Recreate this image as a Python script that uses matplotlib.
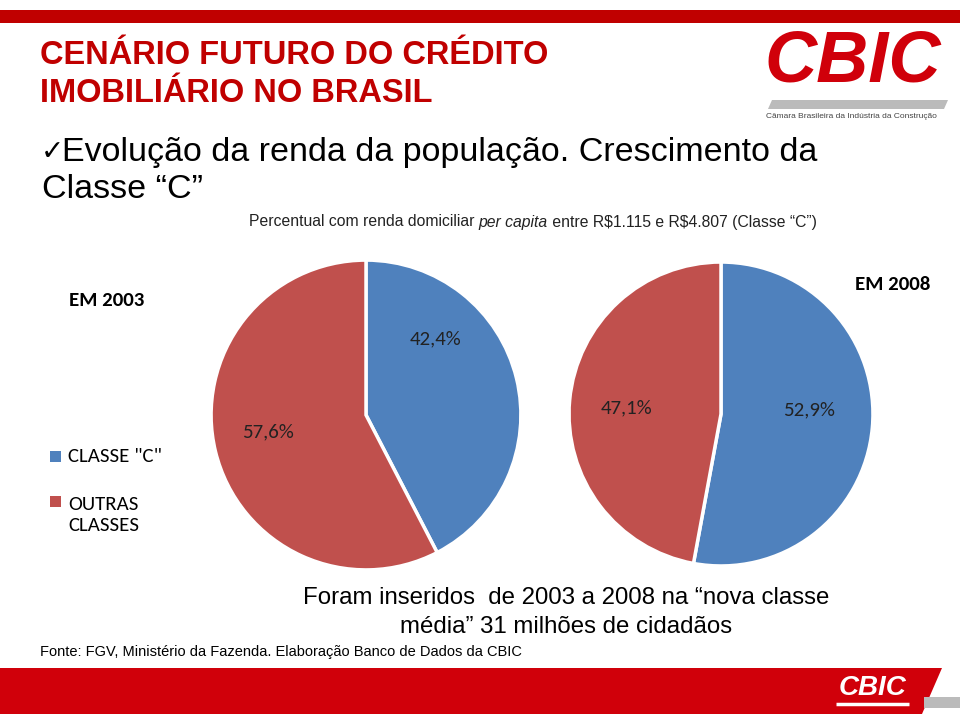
import matplotlib
matplotlib.use("Agg")
import matplotlib.pyplot as plt
from matplotlib import font_manager
from matplotlib.patches import Rectangle, Polygon

# data
labels = ['CLASSE "C"', "OUTRAS\nCLASSES"]
share_2003 = [42.4, 57.6]
share_2008 = [52.9, 47.1]
text_2003 = ["42,4%", "57,6%"]
text_2008 = ["52,9%", "47,1%"]
colors = ["#4F81BD", "#C0504D"]

RED = "#C00000"

installed = {f.name for f in font_manager.fontManager.ttflist}


def pick(*names):
    for n in names:
        if n in installed:
            return n
    return "DejaVu Sans"


narrow = pick("Liberation Sans Narrow", "Liberation Sans")
arial = pick("Liberation Sans")
calibri = pick("Carlito", "Lato", "Open Sans")
title_size = 25 if narrow != arial else 23.5

W, H = 960, 717
fig = plt.figure(figsize=(W / 100, H / 100), dpi=100)
renderer = fig.canvas.get_renderer()

# background axes in pixel coords
bg = fig.add_axes([0, 0, 1, 1])
bg.set_xlim(0, W)
bg.set_ylim(H, 0)
bg.axis("off")

# top red bar
bg.add_patch(Rectangle((0, 10), W, 13, color=RED, lw=0))

# title
bg.text(40, 55, "CENÁRIO FUTURO DO CRÉDITO", family=narrow, weight="bold",
        fontsize=title_size, color=RED, va="center", ha="left")
bg.text(40, 93, "IMOBILIÁRIO NO BRASIL", family=narrow, weight="bold",
        fontsize=title_size, color=RED, va="center", ha="left")

# logo top-right
bg.text(853, 62, "CBIC", family=arial, weight="bold", style="italic",
        fontsize=52, color="#D0000A", va="center", ha="center")
bg.add_patch(Polygon([(772, 100), (948, 100), (944, 109), (768, 109)],
                     closed=True, color="#BBBBBB", lw=0))
bg.text(851, 117, "Câmara Brasileira da Indústria da Construção", family=arial,
        fontsize=6, color="#444444", va="center", ha="center")

# heading
bg.text(41, 152, "✓", family=["DejaVu Sans"], fontsize=20, color="black",
        va="center", ha="left")
bg.text(62, 152, "Evolução da renda da população. Crescimento da", family=arial,
        fontsize=24.5, color="black", va="center", ha="left")
bg.text(42, 190, "Classe “C”", family=arial, fontsize=24.5, color="black",
        va="center", ha="left")

# subtitle, in three pieces so "per capita" can be italic
x = 249
for piece, st in [("Percentual com renda domiciliar ", "normal"),
                  ("per capita", "italic"),
                  (" entre R\\$1.115 e R\\$4.807 (Classe “C”)", "normal")]:
    t = bg.text(x, 222, piece, family=arial, style=st, fontsize=11.3,
                color="#222222", va="center", ha="left")
    x += t.get_window_extent(renderer).width

# year labels
bg.text(69, 300, "EM 2003", family=calibri, weight="bold", fontsize=15,
        va="center", ha="left")
bg.text(855, 285, "EM 2008", family=calibri, weight="bold", fontsize=15,
        va="center", ha="left")

# legend
for (y_sq, y_txt), lab, c in zip([(457, 456), (502, 515)], labels, colors):
    bg.add_patch(Rectangle((50, y_sq - 6), 11, 11, color=c, lw=0))
    bg.text(68, y_txt, lab, family=calibri, fontsize=15, va="center",
            ha="left", linespacing=1.3)

# bottom note
bg.text(566, 598, "Foram inseridos  de 2003 a 2008 na “nova classe", family=arial,
        fontsize=17.3, va="center", ha="center")
bg.text(566, 627, "média” 31 milhões de cidadãos", family=arial,
        fontsize=17.3, va="center", ha="center")
bg.text(40, 652, "Fonte: FGV, Ministério da Fazenda. Elaboração Banco de Dados da CBIC",
        family=arial, fontsize=10.5, va="center", ha="left")

# bottom band logo
bg.add_patch(Polygon([(0, 668), (942, 668), (922, 714), (0, 714)], closed=True,
                     color="#D0000A", lw=0))
bg.add_patch(Rectangle((924, 697), 36, 11, color="#BBBBBB", lw=0))
bg.text(873, 688, "CBIC", family=arial, weight="bold", style="italic",
        fontsize=20, color="white", va="center", ha="center")
bg.plot([836, 909], [704, 704], color="white", lw=2.5, solid_capstyle="butt")


def pie_axes(cx, cy, r):
    return fig.add_axes([(cx - r) / W, (H - cy - r) / H, 2 * r / W, 2 * r / H])


def draw_pie(ax, values, texts, pos):
    ax.pie(values, colors=colors, startangle=90, counterclock=False,
           wedgeprops=dict(edgecolor="white", linewidth=2.5))
    ax.set_xlim(-1.02, 1.02)
    ax.set_ylim(-1.02, 1.02)
    for s, (x, y) in zip(texts, pos):
        ax.text(x, y, s, family=calibri, fontsize=15, color="#222222",
                ha="center", va="center")


ax1 = pie_axes(366, 415, 158)
draw_pie(ax1, share_2003, text_2003, [(0.45, 0.49), (-0.63, -0.11)])
ax2 = pie_axes(721, 414, 155)
draw_pie(ax2, share_2008, text_2008, [(0.58, 0.03), (-0.62, 0.04)])

fig.savefig("out.png", dpi=100)
